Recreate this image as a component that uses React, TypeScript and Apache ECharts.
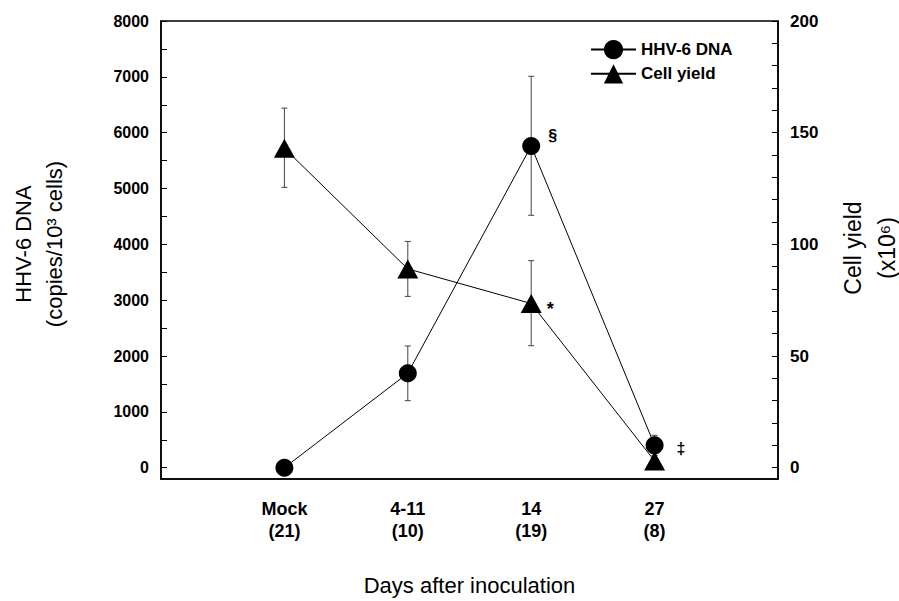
import React, { useEffect, useRef } from "react";
import * as echarts from "echarts";

// ---- data ----
const categories = ["Mock", "4-11", "14", "27"];
const counts = ["(21)", "(10)", "(19)", "(8)"];
const xPositions = [0, 1, 2, 3];

const dnaMean = [0, 1690, 5760, 400];
const dnaLow = [0, 1200, 4520, 220];
const dnaHigh = [0, 2180, 7010, 580];
const dnaMarks = ["", "", "§", "‡"];

const yieldMean = [143, 89, 73.5, 3];
const yieldLow = [125.5, 76.7, 54.6, 3];
const yieldHigh = [161, 101.3, 92.7, 3];
const yieldMarks = ["", "", "*", ""];

const dnaLabelTicks = [0, 1000, 2000, 3000, 4000, 5000, 6000, 7000, 8000];
const dnaMinorTicks = [0, 500, 1000, 1500, 2000, 2500, 3000, 3500, 4000, 4500, 5000, 5500, 6000, 6500, 7000, 7500, 8000];
const yieldLabelTicks = [0, 50, 100, 150, 200];
const yieldMinorTicks = [0, 10, 20, 30, 40, 50, 60, 70, 80, 90, 100, 110, 120, 130, 140, 150, 160, 170, 180, 190, 200];

const FONT = "'Liberation Sans', Arial, Helvetica, sans-serif";

const markLabel = (mark: string) => {
  if (!mark) return undefined;
  const base = { show: true, formatter: mark, position: "right", fontWeight: "bold", color: "#000", fontFamily: FONT };
  if (mark === "§") return { ...base, distance: 8, offset: [0, -11], fontSize: 16 };
  if (mark === "‡") return { ...base, distance: 13, offset: [0, 3], fontSize: 16 };
  return { ...base, distance: 5, offset: [0, 5], fontSize: 18 };
};

const errorRender = (params: any, api: any) => {
  const x = api.value(0);
  const lo = api.value(1);
  const hi = api.value(2);
  const top = api.coord([x, hi]);
  const bot = api.coord([x, lo]);
  const w = 3;
  const style = { stroke: "#444", lineWidth: 1 };
  return {
    type: "group",
    children: [
      { type: "line", shape: { x1: top[0], y1: top[1], x2: bot[0], y2: bot[1] }, style },
      { type: "line", shape: { x1: top[0] - w, y1: top[1], x2: top[0] + w, y2: top[1] }, style },
      { type: "line", shape: { x1: bot[0] - w, y1: bot[1], x2: bot[0] + w, y2: bot[1] }, style },
    ],
  };
};

export default function App() {
  const ref = useRef<HTMLDivElement>(null);
  useEffect(() => {
    if (!ref.current) return;
    const chart = echarts.init(ref.current, undefined, { renderer: "svg" });
    const axisLine = { show: true, onZero: false, lineStyle: { color: "#000", width: 1.5 } };
    const tickLabel = { fontSize: 16, fontWeight: "bold", color: "#000", fontFamily: FONT, formatter: (v: number) => String(v) };
    chart.setOption({
      animation: false,
      backgroundColor: "#fff",
      grid: { left: 161, right: 121, top: 21, bottom: 115, show: true, borderColor: "#000", borderWidth: 1.5, backgroundColor: "transparent" },
      legend: {
        data: ["HHV-6 DNA", "Cell yield"],
        orient: "vertical",
        left: 585,
        top: 35,
        itemWidth: 45,
        itemHeight: 24,
        itemGap: 5,
        textStyle: { fontSize: 17, fontWeight: "bold", color: "#000", fontFamily: FONT },
      },
      xAxis: {
        type: "value",
        min: -1,
        max: 4,
        axisLine,
        axisTick: { show: false },
        splitLine: { show: false },
        axisLabel: {
          customValues: xPositions,
          formatter: (v: number) => `${categories[v]}\n${counts[v]}`,
          fontSize: 18,
          fontWeight: "bold",
          color: "#000",
          fontFamily: FONT,
          lineHeight: 22,
          margin: 19,
        },
        name: "Days after inoculation",
        nameLocation: "middle",
        nameGap: 95,
        nameTextStyle: { fontSize: 22, color: "#000", fontFamily: FONT },
      },
      yAxis: [
        {
          type: "value",
          position: "left",
          min: -202.9,
          max: 8000,
          axisLine,
          splitLine: { show: false },
          axisTick: { show: true, inside: true, length: 6, customValues: dnaMinorTicks, lineStyle: { color: "#000", width: 1 } },
          axisLabel: { ...tickLabel, customValues: dnaLabelTicks, margin: 12 },
        },
        {
          type: "value",
          position: "right",
          min: -5.07,
          max: 200,
          axisLine,
          splitLine: { show: false },
          axisTick: { show: true, inside: true, length: 6, customValues: yieldMinorTicks, lineStyle: { color: "#000", width: 1 } },
          axisLabel: { ...tickLabel, fontSize: 17, customValues: yieldLabelTicks, margin: 12 },
        },
      ],
      graphic: [
        {
          type: "text",
          x: 39,
          y: 244,
          rotation: Math.PI / 2,
          style: {
            text: "HHV-6 DNA\n(copies/10³ cells)",
            fontSize: 22,
            fontFamily: FONT,
            fill: "#000",
            align: "center",
            verticalAlign: "middle",
            lineHeight: 31,
          },
        },
        {
          type: "text",
          x: 870,
          y: 248,
          rotation: Math.PI / 2,
          style: {
            text: "Cell yield\n(x10⁶)",
            fontSize: 23,
            fontFamily: FONT,
            fill: "#000",
            align: "center",
            verticalAlign: "middle",
            lineHeight: 34,
          },
        },
      ],
      series: [
        {
          type: "custom",
          name: "dnaErr",
          yAxisIndex: 0,
          renderItem: errorRender,
          encode: { x: 0, y: [1, 2] },
          data: xPositions.map((x, i) => [x, dnaLow[i], dnaHigh[i]]),
          z: 1,
        },
        {
          type: "custom",
          name: "yieldErr",
          yAxisIndex: 1,
          renderItem: errorRender,
          encode: { x: 0, y: [1, 2] },
          data: xPositions.map((x, i) => [x, yieldLow[i], yieldHigh[i]]),
          z: 1,
        },
        {
          type: "line",
          name: "HHV-6 DNA",
          yAxisIndex: 0,
          symbol: "circle",
          symbolSize: 18,
          showAllSymbol: true,
          itemStyle: { color: "#000" },
          lineStyle: { color: "#000", width: 1 },
          data: xPositions.map((x, i) => ({ value: [x, dnaMean[i]], label: markLabel(dnaMarks[i]) })),
          z: 3,
        },
        {
          type: "line",
          name: "Cell yield",
          yAxisIndex: 1,
          symbol: "triangle",
          symbolSize: [21, 19],
          showAllSymbol: true,
          itemStyle: { color: "#000" },
          lineStyle: { color: "#000", width: 1 },
          data: xPositions.map((x, i) => ({ value: [x, yieldMean[i]], label: markLabel(yieldMarks[i]) })),
          z: 3,
        },
      ],
    });
    return () => chart.dispose();
  }, []);
  return <div ref={ref} style={{ position: "fixed", left: 0, top: 0, width: 899, height: 601 }} />;
}
